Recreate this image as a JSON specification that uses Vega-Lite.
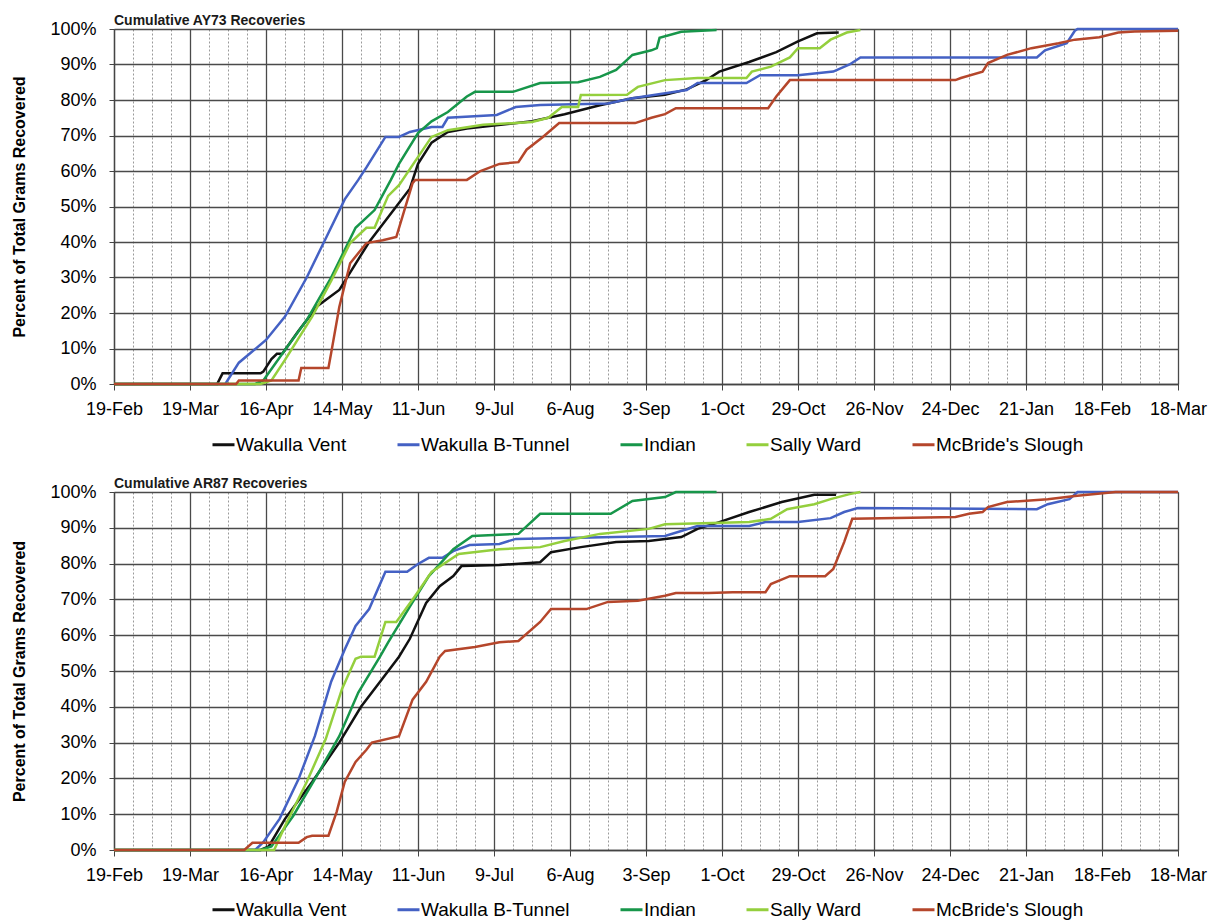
{
  "$schema": "https://vega.github.io/schema/vega-lite/v6.json",
  "padding": {"left": 11, "top": 13, "right": 4, "bottom": 0},
  "background": "white",
  "spacing": 20,
  "config": {
    "font": "Liberation Sans",
    "view": {"stroke": "#9a9a9a", "strokeWidth": 1}
  },
  "resolve": {"scale": {"color": "independent"}, "legend": {"color": "independent"}},
  "datasets": {
    "ay73": [
      {"site": "Wakulla Vent", "date": "2017-02-19", "pct": 0},
      {"site": "Wakulla Vent", "date": "2017-03-29", "pct": 0},
      {"site": "Wakulla Vent", "date": "2017-03-31", "pct": 3},
      {"site": "Wakulla Vent", "date": "2017-04-14", "pct": 3},
      {"site": "Wakulla Vent", "date": "2017-04-15", "pct": 3.5},
      {"site": "Wakulla Vent", "date": "2017-04-18", "pct": 7},
      {"site": "Wakulla Vent", "date": "2017-04-20", "pct": 8.5},
      {"site": "Wakulla Vent", "date": "2017-04-22", "pct": 8.5},
      {"site": "Wakulla Vent", "date": "2017-04-28", "pct": 15},
      {"site": "Wakulla Vent", "date": "2017-05-05", "pct": 22},
      {"site": "Wakulla Vent", "date": "2017-05-13", "pct": 26.5},
      {"site": "Wakulla Vent", "date": "2017-05-24", "pct": 40},
      {"site": "Wakulla Vent", "date": "2017-06-03", "pct": 50},
      {"site": "Wakulla Vent", "date": "2017-06-08", "pct": 55},
      {"site": "Wakulla Vent", "date": "2017-06-11", "pct": 62},
      {"site": "Wakulla Vent", "date": "2017-06-16", "pct": 68},
      {"site": "Wakulla Vent", "date": "2017-06-22", "pct": 71},
      {"site": "Wakulla Vent", "date": "2017-06-29", "pct": 72},
      {"site": "Wakulla Vent", "date": "2017-07-23", "pct": 74},
      {"site": "Wakulla Vent", "date": "2017-08-04", "pct": 76},
      {"site": "Wakulla Vent", "date": "2017-08-17", "pct": 78.5},
      {"site": "Wakulla Vent", "date": "2017-08-29", "pct": 80.5},
      {"site": "Wakulla Vent", "date": "2017-09-10", "pct": 81.5},
      {"site": "Wakulla Vent", "date": "2017-09-18", "pct": 83},
      {"site": "Wakulla Vent", "date": "2017-09-25", "pct": 85.5},
      {"site": "Wakulla Vent", "date": "2017-09-30", "pct": 88},
      {"site": "Wakulla Vent", "date": "2017-10-11", "pct": 90.7},
      {"site": "Wakulla Vent", "date": "2017-10-21", "pct": 93.5},
      {"site": "Wakulla Vent", "date": "2017-10-29", "pct": 96.5},
      {"site": "Wakulla Vent", "date": "2017-11-05", "pct": 98.8},
      {"site": "Wakulla Vent", "date": "2017-11-13", "pct": 99},

      {"site": "Wakulla B-Tunnel", "date": "2017-02-19", "pct": 0},
      {"site": "Wakulla B-Tunnel", "date": "2017-04-01", "pct": 0},
      {"site": "Wakulla B-Tunnel", "date": "2017-04-06", "pct": 6},
      {"site": "Wakulla B-Tunnel", "date": "2017-04-16", "pct": 12.4},
      {"site": "Wakulla B-Tunnel", "date": "2017-04-23", "pct": 19},
      {"site": "Wakulla B-Tunnel", "date": "2017-05-01", "pct": 30},
      {"site": "Wakulla B-Tunnel", "date": "2017-05-08", "pct": 41},
      {"site": "Wakulla B-Tunnel", "date": "2017-05-15", "pct": 52},
      {"site": "Wakulla B-Tunnel", "date": "2017-05-20", "pct": 57.5},
      {"site": "Wakulla B-Tunnel", "date": "2017-05-23", "pct": 61},
      {"site": "Wakulla B-Tunnel", "date": "2017-05-30", "pct": 69.6},
      {"site": "Wakulla B-Tunnel", "date": "2017-06-04", "pct": 69.6},
      {"site": "Wakulla B-Tunnel", "date": "2017-06-08", "pct": 71},
      {"site": "Wakulla B-Tunnel", "date": "2017-06-16", "pct": 72.4},
      {"site": "Wakulla B-Tunnel", "date": "2017-06-20", "pct": 72.4},
      {"site": "Wakulla B-Tunnel", "date": "2017-06-22", "pct": 75},
      {"site": "Wakulla B-Tunnel", "date": "2017-07-10", "pct": 75.8},
      {"site": "Wakulla B-Tunnel", "date": "2017-07-17", "pct": 78},
      {"site": "Wakulla B-Tunnel", "date": "2017-07-26", "pct": 78.6},
      {"site": "Wakulla B-Tunnel", "date": "2017-08-20", "pct": 79},
      {"site": "Wakulla B-Tunnel", "date": "2017-08-29", "pct": 80.5},
      {"site": "Wakulla B-Tunnel", "date": "2017-09-18", "pct": 82.8},
      {"site": "Wakulla B-Tunnel", "date": "2017-09-22", "pct": 84.8},
      {"site": "Wakulla B-Tunnel", "date": "2017-10-10", "pct": 84.8},
      {"site": "Wakulla B-Tunnel", "date": "2017-10-15", "pct": 87},
      {"site": "Wakulla B-Tunnel", "date": "2017-10-29", "pct": 87},
      {"site": "Wakulla B-Tunnel", "date": "2017-11-11", "pct": 88},
      {"site": "Wakulla B-Tunnel", "date": "2017-11-17", "pct": 90},
      {"site": "Wakulla B-Tunnel", "date": "2017-11-21", "pct": 92},
      {"site": "Wakulla B-Tunnel", "date": "2018-01-25", "pct": 92},
      {"site": "Wakulla B-Tunnel", "date": "2018-01-28", "pct": 94},
      {"site": "Wakulla B-Tunnel", "date": "2018-02-05", "pct": 96},
      {"site": "Wakulla B-Tunnel", "date": "2018-02-08", "pct": 99.5},
      {"site": "Wakulla B-Tunnel", "date": "2018-02-09", "pct": 100},
      {"site": "Wakulla B-Tunnel", "date": "2018-03-18", "pct": 100},

      {"site": "Indian", "date": "2017-02-19", "pct": 0},
      {"site": "Indian", "date": "2017-04-12", "pct": 0},
      {"site": "Indian", "date": "2017-04-15", "pct": 1},
      {"site": "Indian", "date": "2017-04-23", "pct": 9.6},
      {"site": "Indian", "date": "2017-05-01", "pct": 18},
      {"site": "Indian", "date": "2017-05-10", "pct": 30},
      {"site": "Indian", "date": "2017-05-19", "pct": 44},
      {"site": "Indian", "date": "2017-05-26", "pct": 49},
      {"site": "Indian", "date": "2017-06-01", "pct": 57.5},
      {"site": "Indian", "date": "2017-06-04", "pct": 62},
      {"site": "Indian", "date": "2017-06-11", "pct": 70.7},
      {"site": "Indian", "date": "2017-06-16", "pct": 74},
      {"site": "Indian", "date": "2017-06-22", "pct": 76.6},
      {"site": "Indian", "date": "2017-06-29", "pct": 81},
      {"site": "Indian", "date": "2017-07-02", "pct": 82.3},
      {"site": "Indian", "date": "2017-07-16", "pct": 82.3},
      {"site": "Indian", "date": "2017-07-26", "pct": 84.8},
      {"site": "Indian", "date": "2017-08-09", "pct": 85},
      {"site": "Indian", "date": "2017-08-17", "pct": 86.5},
      {"site": "Indian", "date": "2017-08-23", "pct": 88.5},
      {"site": "Indian", "date": "2017-08-29", "pct": 92.7},
      {"site": "Indian", "date": "2017-09-05", "pct": 94},
      {"site": "Indian", "date": "2017-09-07", "pct": 94.6},
      {"site": "Indian", "date": "2017-09-08", "pct": 97.5},
      {"site": "Indian", "date": "2017-09-16", "pct": 99.2},
      {"site": "Indian", "date": "2017-09-29", "pct": 99.7},

      {"site": "Sally Ward", "date": "2017-02-19", "pct": 0},
      {"site": "Sally Ward", "date": "2017-04-14", "pct": 0},
      {"site": "Sally Ward", "date": "2017-04-18", "pct": 1},
      {"site": "Sally Ward", "date": "2017-04-23", "pct": 6.8},
      {"site": "Sally Ward", "date": "2017-05-03", "pct": 19},
      {"site": "Sally Ward", "date": "2017-05-10", "pct": 29},
      {"site": "Sally Ward", "date": "2017-05-17", "pct": 39.7},
      {"site": "Sally Ward", "date": "2017-05-23", "pct": 44},
      {"site": "Sally Ward", "date": "2017-05-26", "pct": 44},
      {"site": "Sally Ward", "date": "2017-05-31", "pct": 53},
      {"site": "Sally Ward", "date": "2017-06-04", "pct": 56},
      {"site": "Sally Ward", "date": "2017-06-16", "pct": 69.6},
      {"site": "Sally Ward", "date": "2017-06-22", "pct": 71.5},
      {"site": "Sally Ward", "date": "2017-07-05", "pct": 73},
      {"site": "Sally Ward", "date": "2017-07-23", "pct": 73.8},
      {"site": "Sally Ward", "date": "2017-07-29", "pct": 75},
      {"site": "Sally Ward", "date": "2017-08-03", "pct": 78},
      {"site": "Sally Ward", "date": "2017-08-09", "pct": 78},
      {"site": "Sally Ward", "date": "2017-08-10", "pct": 81.4},
      {"site": "Sally Ward", "date": "2017-08-27", "pct": 81.5},
      {"site": "Sally Ward", "date": "2017-08-31", "pct": 83.7},
      {"site": "Sally Ward", "date": "2017-09-10", "pct": 85.6},
      {"site": "Sally Ward", "date": "2017-09-22", "pct": 86.2},
      {"site": "Sally Ward", "date": "2017-10-10", "pct": 86.2},
      {"site": "Sally Ward", "date": "2017-10-12", "pct": 88},
      {"site": "Sally Ward", "date": "2017-10-19", "pct": 89.4},
      {"site": "Sally Ward", "date": "2017-10-26", "pct": 92},
      {"site": "Sally Ward", "date": "2017-10-29", "pct": 94.6},
      {"site": "Sally Ward", "date": "2017-11-06", "pct": 94.6},
      {"site": "Sally Ward", "date": "2017-11-10", "pct": 97},
      {"site": "Sally Ward", "date": "2017-11-16", "pct": 99},
      {"site": "Sally Ward", "date": "2017-11-21", "pct": 99.7},

      {"site": "McBride's Slough", "date": "2017-02-19", "pct": 0},
      {"site": "McBride's Slough", "date": "2017-04-05", "pct": 0},
      {"site": "McBride's Slough", "date": "2017-04-06", "pct": 1},
      {"site": "McBride's Slough", "date": "2017-04-28", "pct": 1},
      {"site": "McBride's Slough", "date": "2017-04-29", "pct": 4.5},
      {"site": "McBride's Slough", "date": "2017-05-09", "pct": 4.5},
      {"site": "McBride's Slough", "date": "2017-05-10", "pct": 8.7},
      {"site": "McBride's Slough", "date": "2017-05-13", "pct": 21.7},
      {"site": "McBride's Slough", "date": "2017-05-17", "pct": 34},
      {"site": "McBride's Slough", "date": "2017-05-23", "pct": 39.7},
      {"site": "McBride's Slough", "date": "2017-05-29", "pct": 40.5},
      {"site": "McBride's Slough", "date": "2017-06-03", "pct": 41.4},
      {"site": "McBride's Slough", "date": "2017-06-09", "pct": 56.6},
      {"site": "McBride's Slough", "date": "2017-06-10", "pct": 57.5},
      {"site": "McBride's Slough", "date": "2017-06-29", "pct": 57.5},
      {"site": "McBride's Slough", "date": "2017-07-04", "pct": 60},
      {"site": "McBride's Slough", "date": "2017-07-11", "pct": 62},
      {"site": "McBride's Slough", "date": "2017-07-18", "pct": 62.5},
      {"site": "McBride's Slough", "date": "2017-07-21", "pct": 66},
      {"site": "McBride's Slough", "date": "2017-07-27", "pct": 69.6},
      {"site": "McBride's Slough", "date": "2017-08-02", "pct": 73.5},
      {"site": "McBride's Slough", "date": "2017-08-30", "pct": 73.5},
      {"site": "McBride's Slough", "date": "2017-09-05", "pct": 75},
      {"site": "McBride's Slough", "date": "2017-09-10", "pct": 76},
      {"site": "McBride's Slough", "date": "2017-09-14", "pct": 77.7},
      {"site": "McBride's Slough", "date": "2017-10-18", "pct": 77.7},
      {"site": "McBride's Slough", "date": "2017-10-21", "pct": 81},
      {"site": "McBride's Slough", "date": "2017-10-26", "pct": 85.6},
      {"site": "McBride's Slough", "date": "2017-12-26", "pct": 85.6},
      {"site": "McBride's Slough", "date": "2017-12-28", "pct": 86.2},
      {"site": "McBride's Slough", "date": "2018-01-05", "pct": 88},
      {"site": "McBride's Slough", "date": "2018-01-07", "pct": 90.4},
      {"site": "McBride's Slough", "date": "2018-01-14", "pct": 92.7},
      {"site": "McBride's Slough", "date": "2018-01-23", "pct": 94.6},
      {"site": "McBride's Slough", "date": "2018-02-02", "pct": 96},
      {"site": "McBride's Slough", "date": "2018-02-08", "pct": 97},
      {"site": "McBride's Slough", "date": "2018-02-17", "pct": 97.7},
      {"site": "McBride's Slough", "date": "2018-02-24", "pct": 99},
      {"site": "McBride's Slough", "date": "2018-03-02", "pct": 99.3},
      {"site": "McBride's Slough", "date": "2018-03-18", "pct": 99.5}
    ],
    "ar87": [
      {"site": "Wakulla Vent", "date": "2017-02-19", "pct": 0},
      {"site": "Wakulla Vent", "date": "2017-04-14", "pct": 0},
      {"site": "Wakulla Vent", "date": "2017-04-17", "pct": 1},
      {"site": "Wakulla Vent", "date": "2017-04-23", "pct": 8.7},
      {"site": "Wakulla Vent", "date": "2017-05-03", "pct": 19},
      {"site": "Wakulla Vent", "date": "2017-05-13", "pct": 30},
      {"site": "Wakulla Vent", "date": "2017-05-21", "pct": 40},
      {"site": "Wakulla Vent", "date": "2017-05-29", "pct": 48},
      {"site": "Wakulla Vent", "date": "2017-06-04", "pct": 54},
      {"site": "Wakulla Vent", "date": "2017-06-08", "pct": 59},
      {"site": "Wakulla Vent", "date": "2017-06-14", "pct": 69},
      {"site": "Wakulla Vent", "date": "2017-06-19", "pct": 73.7},
      {"site": "Wakulla Vent", "date": "2017-06-24", "pct": 76.5},
      {"site": "Wakulla Vent", "date": "2017-06-27", "pct": 79.3},
      {"site": "Wakulla Vent", "date": "2017-07-11", "pct": 79.6},
      {"site": "Wakulla Vent", "date": "2017-07-26", "pct": 80.4},
      {"site": "Wakulla Vent", "date": "2017-07-30", "pct": 83.2},
      {"site": "Wakulla Vent", "date": "2017-08-10", "pct": 84.6},
      {"site": "Wakulla Vent", "date": "2017-08-23", "pct": 86},
      {"site": "Wakulla Vent", "date": "2017-09-04", "pct": 86.3},
      {"site": "Wakulla Vent", "date": "2017-09-16", "pct": 87.4},
      {"site": "Wakulla Vent", "date": "2017-09-22", "pct": 89.7},
      {"site": "Wakulla Vent", "date": "2017-09-30", "pct": 91.6},
      {"site": "Wakulla Vent", "date": "2017-10-11", "pct": 94.4},
      {"site": "Wakulla Vent", "date": "2017-10-23", "pct": 97.2},
      {"site": "Wakulla Vent", "date": "2017-11-04", "pct": 99.2},
      {"site": "Wakulla Vent", "date": "2017-11-12", "pct": 99.2},

      {"site": "Wakulla B-Tunnel", "date": "2017-02-19", "pct": 0},
      {"site": "Wakulla B-Tunnel", "date": "2017-04-12", "pct": 0},
      {"site": "Wakulla B-Tunnel", "date": "2017-04-15", "pct": 2.2},
      {"site": "Wakulla B-Tunnel", "date": "2017-04-21", "pct": 8.7},
      {"site": "Wakulla B-Tunnel", "date": "2017-04-28", "pct": 19.8},
      {"site": "Wakulla B-Tunnel", "date": "2017-05-04", "pct": 31.8},
      {"site": "Wakulla B-Tunnel", "date": "2017-05-10", "pct": 47},
      {"site": "Wakulla B-Tunnel", "date": "2017-05-12", "pct": 50.6},
      {"site": "Wakulla B-Tunnel", "date": "2017-05-15", "pct": 56},
      {"site": "Wakulla B-Tunnel", "date": "2017-05-19", "pct": 62.6},
      {"site": "Wakulla B-Tunnel", "date": "2017-05-24", "pct": 67.3},
      {"site": "Wakulla B-Tunnel", "date": "2017-05-30", "pct": 77.7},
      {"site": "Wakulla B-Tunnel", "date": "2017-06-07", "pct": 77.7},
      {"site": "Wakulla B-Tunnel", "date": "2017-06-11", "pct": 79.9},
      {"site": "Wakulla B-Tunnel", "date": "2017-06-15", "pct": 81.6},
      {"site": "Wakulla B-Tunnel", "date": "2017-06-20", "pct": 81.6},
      {"site": "Wakulla B-Tunnel", "date": "2017-06-24", "pct": 83.5},
      {"site": "Wakulla B-Tunnel", "date": "2017-06-30", "pct": 85.2},
      {"site": "Wakulla B-Tunnel", "date": "2017-07-11", "pct": 85.5},
      {"site": "Wakulla B-Tunnel", "date": "2017-07-17", "pct": 86.9},
      {"site": "Wakulla B-Tunnel", "date": "2017-09-10", "pct": 87.7},
      {"site": "Wakulla B-Tunnel", "date": "2017-09-22", "pct": 90.5},
      {"site": "Wakulla B-Tunnel", "date": "2017-10-11", "pct": 90.5},
      {"site": "Wakulla B-Tunnel", "date": "2017-10-17", "pct": 91.6},
      {"site": "Wakulla B-Tunnel", "date": "2017-10-29", "pct": 91.6},
      {"site": "Wakulla B-Tunnel", "date": "2017-11-10", "pct": 92.7},
      {"site": "Wakulla B-Tunnel", "date": "2017-11-15", "pct": 94.4},
      {"site": "Wakulla B-Tunnel", "date": "2017-11-20", "pct": 95.5},
      {"site": "Wakulla B-Tunnel", "date": "2018-01-25", "pct": 95.2},
      {"site": "Wakulla B-Tunnel", "date": "2018-01-29", "pct": 96.6},
      {"site": "Wakulla B-Tunnel", "date": "2018-02-06", "pct": 98},
      {"site": "Wakulla B-Tunnel", "date": "2018-02-09", "pct": 100},
      {"site": "Wakulla B-Tunnel", "date": "2018-03-18", "pct": 100},

      {"site": "Indian", "date": "2017-02-19", "pct": 0},
      {"site": "Indian", "date": "2017-04-14", "pct": 0},
      {"site": "Indian", "date": "2017-04-18", "pct": 1},
      {"site": "Indian", "date": "2017-04-26", "pct": 9.5},
      {"site": "Indian", "date": "2017-05-04", "pct": 19.8},
      {"site": "Indian", "date": "2017-05-13", "pct": 31.8},
      {"site": "Indian", "date": "2017-05-20", "pct": 44},
      {"site": "Indian", "date": "2017-05-28", "pct": 54},
      {"site": "Indian", "date": "2017-05-31", "pct": 58},
      {"site": "Indian", "date": "2017-06-08", "pct": 68},
      {"site": "Indian", "date": "2017-06-15", "pct": 76.5},
      {"site": "Indian", "date": "2017-06-24", "pct": 84},
      {"site": "Indian", "date": "2017-07-01", "pct": 87.7},
      {"site": "Indian", "date": "2017-07-18", "pct": 88.3},
      {"site": "Indian", "date": "2017-07-26", "pct": 93.9},
      {"site": "Indian", "date": "2017-08-21", "pct": 93.9},
      {"site": "Indian", "date": "2017-08-29", "pct": 97.5},
      {"site": "Indian", "date": "2017-09-10", "pct": 98.6},
      {"site": "Indian", "date": "2017-09-14", "pct": 100},
      {"site": "Indian", "date": "2017-09-29", "pct": 100},

      {"site": "Sally Ward", "date": "2017-02-19", "pct": 0},
      {"site": "Sally Ward", "date": "2017-04-19", "pct": 0},
      {"site": "Sally Ward", "date": "2017-04-23", "pct": 6.7},
      {"site": "Sally Ward", "date": "2017-05-01", "pct": 19},
      {"site": "Sally Ward", "date": "2017-05-08", "pct": 31},
      {"site": "Sally Ward", "date": "2017-05-14", "pct": 45},
      {"site": "Sally Ward", "date": "2017-05-19", "pct": 53.4},
      {"site": "Sally Ward", "date": "2017-05-21", "pct": 54},
      {"site": "Sally Ward", "date": "2017-05-26", "pct": 54},
      {"site": "Sally Ward", "date": "2017-05-30", "pct": 63.7},
      {"site": "Sally Ward", "date": "2017-06-03", "pct": 63.7},
      {"site": "Sally Ward", "date": "2017-06-10", "pct": 71},
      {"site": "Sally Ward", "date": "2017-06-16", "pct": 77.7},
      {"site": "Sally Ward", "date": "2017-06-26", "pct": 82.7},
      {"site": "Sally Ward", "date": "2017-07-11", "pct": 84},
      {"site": "Sally Ward", "date": "2017-07-26", "pct": 84.6},
      {"site": "Sally Ward", "date": "2017-08-04", "pct": 86.3},
      {"site": "Sally Ward", "date": "2017-08-17", "pct": 88.3},
      {"site": "Sally Ward", "date": "2017-09-04", "pct": 89.7},
      {"site": "Sally Ward", "date": "2017-09-10", "pct": 91},
      {"site": "Sally Ward", "date": "2017-10-11", "pct": 91.6},
      {"site": "Sally Ward", "date": "2017-10-19", "pct": 92.5},
      {"site": "Sally Ward", "date": "2017-10-25", "pct": 95.2},
      {"site": "Sally Ward", "date": "2017-11-04", "pct": 96.6},
      {"site": "Sally Ward", "date": "2017-11-10", "pct": 98},
      {"site": "Sally Ward", "date": "2017-11-17", "pct": 99.4},
      {"site": "Sally Ward", "date": "2017-11-21", "pct": 100},

      {"site": "McBride's Slough", "date": "2017-02-19", "pct": 0},
      {"site": "McBride's Slough", "date": "2017-04-08", "pct": 0},
      {"site": "McBride's Slough", "date": "2017-04-11", "pct": 2},
      {"site": "McBride's Slough", "date": "2017-04-28", "pct": 2},
      {"site": "McBride's Slough", "date": "2017-05-01", "pct": 3.6},
      {"site": "McBride's Slough", "date": "2017-05-03", "pct": 4},
      {"site": "McBride's Slough", "date": "2017-05-09", "pct": 4},
      {"site": "McBride's Slough", "date": "2017-05-12", "pct": 10.6},
      {"site": "McBride's Slough", "date": "2017-05-15", "pct": 19},
      {"site": "McBride's Slough", "date": "2017-05-19", "pct": 24.6},
      {"site": "McBride's Slough", "date": "2017-05-23", "pct": 28},
      {"site": "McBride's Slough", "date": "2017-05-25", "pct": 30},
      {"site": "McBride's Slough", "date": "2017-06-04", "pct": 31.8},
      {"site": "McBride's Slough", "date": "2017-06-09", "pct": 42},
      {"site": "McBride's Slough", "date": "2017-06-14", "pct": 47},
      {"site": "McBride's Slough", "date": "2017-06-19", "pct": 54},
      {"site": "McBride's Slough", "date": "2017-06-21", "pct": 55.6},
      {"site": "McBride's Slough", "date": "2017-07-02", "pct": 56.7},
      {"site": "McBride's Slough", "date": "2017-07-11", "pct": 58},
      {"site": "McBride's Slough", "date": "2017-07-18", "pct": 58.4},
      {"site": "McBride's Slough", "date": "2017-07-26", "pct": 63.7},
      {"site": "McBride's Slough", "date": "2017-07-30", "pct": 67.3},
      {"site": "McBride's Slough", "date": "2017-08-12", "pct": 67.3},
      {"site": "McBride's Slough", "date": "2017-08-20", "pct": 69.3},
      {"site": "McBride's Slough", "date": "2017-08-31", "pct": 69.6},
      {"site": "McBride's Slough", "date": "2017-09-10", "pct": 71},
      {"site": "McBride's Slough", "date": "2017-09-14", "pct": 71.8},
      {"site": "McBride's Slough", "date": "2017-09-26", "pct": 71.8},
      {"site": "McBride's Slough", "date": "2017-10-05", "pct": 72},
      {"site": "McBride's Slough", "date": "2017-10-17", "pct": 72},
      {"site": "McBride's Slough", "date": "2017-10-19", "pct": 74.3},
      {"site": "McBride's Slough", "date": "2017-10-26", "pct": 76.5},
      {"site": "McBride's Slough", "date": "2017-11-08", "pct": 76.5},
      {"site": "McBride's Slough", "date": "2017-11-11", "pct": 78.5},
      {"site": "McBride's Slough", "date": "2017-11-15", "pct": 86},
      {"site": "McBride's Slough", "date": "2017-11-18", "pct": 92.5},
      {"site": "McBride's Slough", "date": "2017-12-26", "pct": 93},
      {"site": "McBride's Slough", "date": "2017-12-31", "pct": 93.9},
      {"site": "McBride's Slough", "date": "2018-01-05", "pct": 94.4},
      {"site": "McBride's Slough", "date": "2018-01-07", "pct": 95.8},
      {"site": "McBride's Slough", "date": "2018-01-14", "pct": 97.2},
      {"site": "McBride's Slough", "date": "2018-01-29", "pct": 98},
      {"site": "McBride's Slough", "date": "2018-02-08", "pct": 98.9},
      {"site": "McBride's Slough", "date": "2018-02-23", "pct": 100},
      {"site": "McBride's Slough", "date": "2018-03-18", "pct": 100}
    ]
  },
  "vconcat": [
    {
      "data": {"name": "ay73"},
      "width": 1064,
      "height": 355,
      "title": {"text": "Cumulative AY73 Recoveries", "anchor": "start", "frame": "group", "fontSize": 14, "fontWeight": "bold", "font": "Liberation Sans", "color": "#1a1a1a", "offset": -8},
      "mark": {"type": "line", "strokeWidth": 2.5},
      "encoding": {
        "x": {
          "field": "date", "type": "temporal",
          "scale": {"type": "utc", "domain": [{"year": 2017, "month": 2, "date": 19, "utc": true}, {"year": 2018, "month": 3, "date": 18, "utc": true}]},
          "axis": {
            "title": null,
            "tickCount": {"interval": "week", "step": 1},
            "format": "%-d-%b",
            "labelExpr": "round((datum.value - 1487462400000) / 604800000) % 4 === 0 ? datum.label : ''",
            "labelFlush": false, "labelOverlap": false,
            "labelFontSize": 18, "labelColor": "#000", "labelPadding": 10,
            "tickSize": 6, "tickColor": "#444",
            "tickOpacity": {"condition": {"test": "round((datum.value - 1487462400000) / 604800000) % 4 === 0", "value": 1}, "value": 0},
            "grid": true,
            "gridColor": {"condition": {"test": "round((datum.value - 1487462400000) / 604800000) % 4 === 0", "value": "#4a4a4a"}, "value": "#9a9a9a"},
            "gridDash": {"condition": {"test": "round((datum.value - 1487462400000) / 604800000) % 4 === 0", "value": []}, "value": [2, 2]},
            "gridWidth": {"condition": {"test": "round((datum.value - 1487462400000) / 604800000) % 4 === 0", "value": 1.3}, "value": 1},
            "domainColor": "#444", "domainWidth": 1.3
          }
        },
        "y": {
          "field": "pct", "type": "quantitative",
          "scale": {"domain": [0, 100], "nice": false},
          "axis": {
            "title": "Percent of Total Grams Recovered",
            "titleFontSize": 16, "titleFontWeight": "bold", "titleColor": "#000", "titlePadding": 22,
            "values": [0, 10, 20, 30, 40, 50, 60, 70, 80, 90, 100],
            "labelExpr": "datum.value + '%'",
            "labelFontSize": 18, "labelColor": "#000", "labelPadding": 13,
            "tickSize": 5, "tickColor": "#444",
            "gridColor": "#4a4a4a", "gridWidth": 1.3,
            "domainColor": "#444", "domainWidth": 1.3
          }
        },
        "color": {
          "field": "site", "type": "nominal",
          "scale": {"domain": ["Wakulla Vent", "Wakulla B-Tunnel", "Indian", "Sally Ward", "McBride's Slough"], "range": ["#111111", "#4461c4", "#17964a", "#94cf3d", "#b5462b"]},
          "legend": {"title": null, "orient": "none", "legendX": 97, "legendY": 403, "direction": "horizontal", "symbolType": "stroke", "symbolSize": 484, "symbolStrokeWidth": 3, "labelFontSize": 19, "labelColor": "#000", "labelOffset": 0, "columnPadding": 44, "labelLimit": 300}
        }
      }
    },
    {
      "data": {"name": "ar87"},
      "width": 1064,
      "height": 358,
      "title": {"text": "Cumulative AR87 Recoveries", "anchor": "start", "frame": "group", "fontSize": 14, "fontWeight": "bold", "font": "Liberation Sans", "color": "#1a1a1a", "offset": -8},
      "mark": {"type": "line", "strokeWidth": 2.5},
      "encoding": {
        "x": {
          "field": "date", "type": "temporal",
          "scale": {"type": "utc", "domain": [{"year": 2017, "month": 2, "date": 19, "utc": true}, {"year": 2018, "month": 3, "date": 18, "utc": true}]},
          "axis": {
            "title": null,
            "tickCount": {"interval": "week", "step": 1},
            "format": "%-d-%b",
            "labelExpr": "round((datum.value - 1487462400000) / 604800000) % 4 === 0 ? datum.label : ''",
            "labelFlush": false, "labelOverlap": false,
            "labelFontSize": 18, "labelColor": "#000", "labelPadding": 10,
            "tickSize": 6, "tickColor": "#444",
            "tickOpacity": {"condition": {"test": "round((datum.value - 1487462400000) / 604800000) % 4 === 0", "value": 1}, "value": 0},
            "grid": true,
            "gridColor": {"condition": {"test": "round((datum.value - 1487462400000) / 604800000) % 4 === 0", "value": "#4a4a4a"}, "value": "#9a9a9a"},
            "gridDash": {"condition": {"test": "round((datum.value - 1487462400000) / 604800000) % 4 === 0", "value": []}, "value": [2, 2]},
            "gridWidth": {"condition": {"test": "round((datum.value - 1487462400000) / 604800000) % 4 === 0", "value": 1.3}, "value": 1},
            "domainColor": "#444", "domainWidth": 1.3
          }
        },
        "y": {
          "field": "pct", "type": "quantitative",
          "scale": {"domain": [0, 100], "nice": false},
          "axis": {
            "title": "Percent of Total Grams Recovered",
            "titleFontSize": 16, "titleFontWeight": "bold", "titleColor": "#000", "titlePadding": 22,
            "values": [0, 10, 20, 30, 40, 50, 60, 70, 80, 90, 100],
            "labelExpr": "datum.value + '%'",
            "labelFontSize": 18, "labelColor": "#000", "labelPadding": 13,
            "tickSize": 5, "tickColor": "#444",
            "gridColor": "#4a4a4a", "gridWidth": 1.3,
            "domainColor": "#444", "domainWidth": 1.3
          }
        },
        "color": {
          "field": "site", "type": "nominal",
          "scale": {"domain": ["Wakulla Vent", "Wakulla B-Tunnel", "Indian", "Sally Ward", "McBride's Slough"], "range": ["#111111", "#4461c4", "#17964a", "#94cf3d", "#b5462b"]},
          "legend": {"title": null, "orient": "none", "legendX": 97, "legendY": 405, "direction": "horizontal", "symbolType": "stroke", "symbolSize": 484, "symbolStrokeWidth": 3, "labelFontSize": 19, "labelColor": "#000", "labelOffset": 0, "columnPadding": 44, "labelLimit": 300}
        }
      }
    }
  ]
}
